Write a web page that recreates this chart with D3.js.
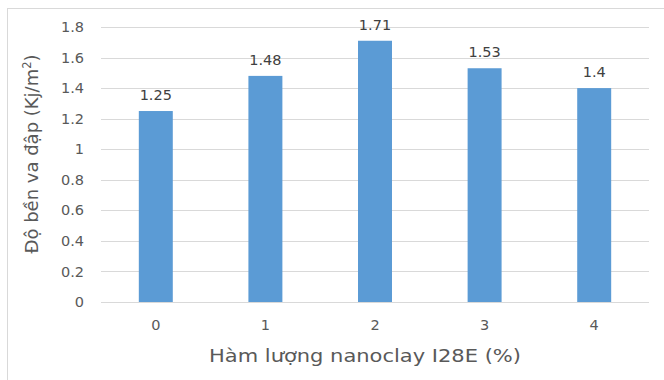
<!DOCTYPE html>
<html>
<head>
<meta charset="utf-8">
<script src="https://cdn.jsdelivr.net/npm/d3@7"></script>
<style>
  html, body { margin: 0; padding: 0; background: #fff; }
  svg { display: block; font-family: "DejaVu Sans", "Noto Sans", sans-serif; }
</style>
</head>
<body>
<svg id="chart" width="664" height="380"></svg>
<script>
// Impact strength by nanoclay I28E content
const categories = ["0", "1", "2", "3", "4"];
const values = [1.25, 1.48, 1.71, 1.53, 1.4];
const yTicks = [0, 0.2, 0.4, 0.6, 0.8, 1, 1.2, 1.4, 1.6, 1.8];
const xTitle = "Hàm lượng nanoclay I28E (%)";
const yTitle = "Độ bền va đập (Kj/m";

const svg = d3.select("#chart");
const W = 664, H = 380;
const plot = { left: 101, right: 649, top: 27, bottom: 302 };
const font = "'DejaVu Sans', sans-serif";

// outer chart frame
svg.append("rect")
  .attr("x", 7.5).attr("y", 8.5)
  .attr("width", W).attr("height", H)
  .attr("fill", "#fff")
  .attr("stroke", "#d9d9d9").attr("stroke-width", 1);

const x = d3.scaleBand()
  .domain(categories)
  .range([plot.left, plot.right])
  .paddingInner(0.69).paddingOuter(0.345);

const y = d3.scaleLinear()
  .domain([0, 1.8])
  .range([plot.bottom, plot.top]);

// horizontal gridlines
svg.append("g")
  .selectAll("line")
  .data(yTicks)
  .join("line")
  .attr("x1", plot.left).attr("x2", plot.right)
  .attr("y1", d => Math.round(y(d)) + 0.5)
  .attr("y2", d => Math.round(y(d)) + 0.5)
  .attr("stroke", "#d9d9d9").attr("stroke-width", 1);

// y axis labels
const yAxis = d3.axisLeft(y).tickValues(yTicks).tickSize(0).tickPadding(0)
  .tickFormat(d => String(d));
svg.append("g")
  .attr("transform", `translate(${plot.left - 17},0)`)
  .call(yAxis)
  .call(g => g.select(".domain").remove())
  .call(g => g.selectAll("text")
    .attr("fill", "#595959").attr("font-size", 14.5)
    .attr("font-family", font));

// x axis labels
const xAxis = d3.axisBottom(x).tickSize(0).tickPadding(0);
svg.append("g")
  .attr("transform", `translate(0,${plot.bottom + 18})`)
  .call(xAxis)
  .call(g => g.select(".domain").remove())
  .call(g => g.selectAll("text")
    .attr("fill", "#595959").attr("font-size", 14.5)
    .attr("font-family", font));

// bars
svg.append("g")
  .selectAll("rect")
  .data(values)
  .join("rect")
  .attr("x", (d, i) => x(categories[i]))
  .attr("width", x.bandwidth())
  .attr("y", d => y(d))
  .attr("height", d => y(0) - y(d))
  .attr("fill", "#5b9bd5");

// value labels
svg.append("g")
  .selectAll("text")
  .data(values)
  .join("text")
  .attr("x", (d, i) => x(categories[i]) + x.bandwidth() / 2)
  .attr("y", d => y(d) - 11)
  .attr("text-anchor", "middle")
  .attr("fill", "#404040").attr("font-size", 14.5)
  .text(d => String(d));

// x axis title
svg.append("text")
  .attr("x", 365).attr("y", 362)
  .attr("text-anchor", "middle")
  .attr("fill", "#595959").attr("font-size", 18)
  .attr("textLength", 312).attr("lengthAdjust", "spacingAndGlyphs")
  .text(xTitle);

// y axis title
const yt = svg.append("text")
  .attr("transform", "translate(38,154) rotate(-90)")
  .attr("text-anchor", "middle")
  .attr("fill", "#595959").attr("font-size", 18);
yt.append("tspan").text(yTitle);
yt.append("tspan").attr("font-size", 11.5).attr("dy", -7).text("2");
yt.append("tspan").attr("dy", 7).text(")");
</script>
</body>
</html>
